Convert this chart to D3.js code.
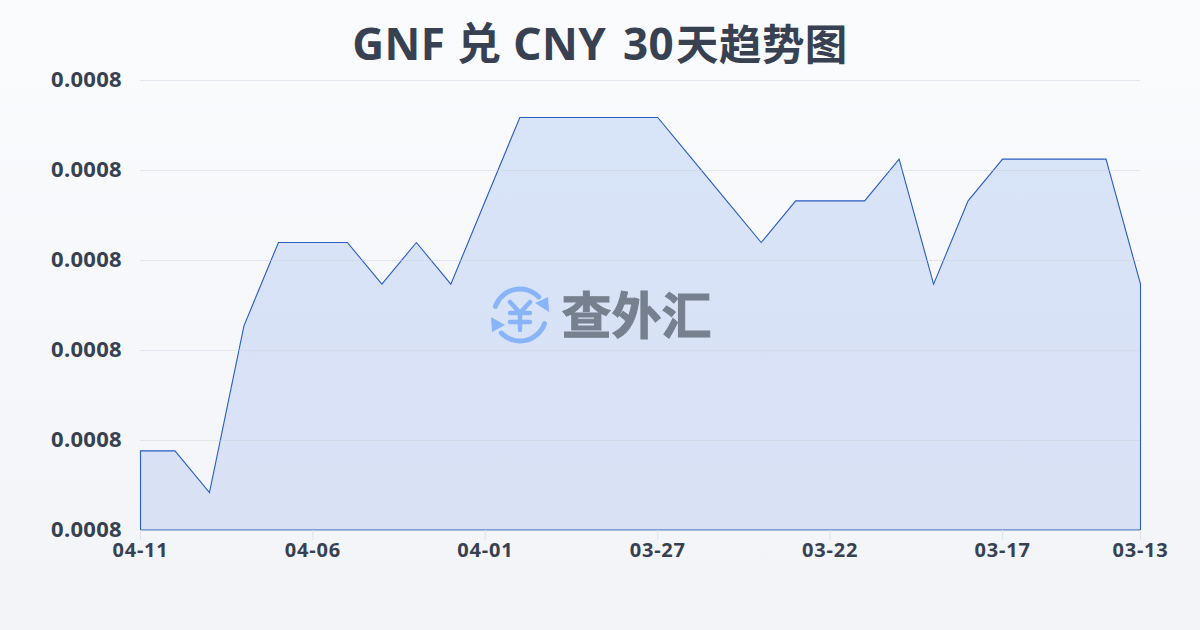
<!DOCTYPE html>
<html>
<head>
<meta charset="utf-8">
<style>
  html, body { margin: 0; padding: 0; background: #f5f6f9; }
  svg { display: block; }
  text { font-family: "Noto Sans", "Noto Sans CJK SC", sans-serif; }
</style>
</head>
<body>
<script src="https://d3js.org/d3.v7.min.js"></script>
<script>
var dates = ['04-11','04-10','04-09','04-08','04-07','04-06','04-05','04-04','04-03','04-02',
             '04-01','03-31','03-30','03-29','03-28','03-27','03-26','03-25','03-24','03-23',
             '03-22','03-21','03-20','03-19','03-18','03-17','03-16','03-15','03-14','03-13'];
var rates = [0.000797,0.000797,0.000796,0.000800,0.000802,0.000802,0.000802,0.000801,0.000802,0.000801,
             0.000803,0.000805,0.000805,0.000805,0.000805,0.000805,0.000804,0.000803,0.000802,0.000803,
             0.000803,0.000803,0.000804,0.000801,0.000803,0.000804,0.000804,0.000804,0.000804,0.000801];
var xTicks = ['04-11','04-06','04-01','03-27','03-22','03-17','03-13'];
var yTicks = [0.0007951,0.00079726,0.00079942,0.00080158,0.00080374,0.0008059];
var titleParts = ['GNF 兑 CNY ', '30', '天趋势图'];

var width = 1200,
    height = 630,
    left = 140,
    right = 1140,
    top_ = 80,
    bottom = 530;

var x = d3.scalePoint().domain(dates).range([left, right]);
var y = d3.scaleLinear().domain([yTicks[0], yTicks[yTicks.length - 1]]).range([bottom, top_]);

var svg = d3.select('body').append('svg')
    .attr('width', width)
    .attr('height', height);

var defs = svg.append('defs');
var bg = defs.append('linearGradient').attr('id', 'bg')
    .attr('x1', 0).attr('y1', 0).attr('x2', 0).attr('y2', 1);
bg.append('stop').attr('offset', 0).attr('stop-color', '#fafbfd');
bg.append('stop').attr('offset', 1).attr('stop-color', '#f2f4f7');

var fill = defs.append('linearGradient').attr('id', 'fill')
    .attr('x1', 0).attr('y1', 0).attr('x2', 0).attr('y2', 1);
fill.append('stop').attr('offset', 0).attr('stop-color', '#d8e4f8');
fill.append('stop').attr('offset', 1).attr('stop-color', '#d9e1f5');

svg.append('rect').attr('width', width).attr('height', height).attr('fill', 'url(#bg)');

var titleText = svg.append('text')
    .attr('x', 600).attr('y', 60)
    .attr('text-anchor', 'middle')
    .attr('font-size', 44)
    .attr('font-weight', 700)
    .attr('letter-spacing', 0.4)
    .attr('fill', '#374151')
    .attr('xml:space', 'preserve');
titleText.append('tspan').text(titleParts[0]);
titleText.append('tspan').attr('dx', 5).text(titleParts[1]);
titleText.append('tspan').attr('dx', 2).attr('font-size', 42.5).text(titleParts[2]);

// area first, grid goes on top of it
var area = d3.area()
    .x(function(d, i) { return x(dates[i]); })
    .y0(bottom)
    .y1(function(d) { return y(d); });

svg.append('path')
    .datum(rates)
    .attr('transform', 'translate(0.5,0)')
    .attr('d', function(d) { return area(d) + 'Z'; })
    .attr('fill', 'url(#fill)')
    .attr('stroke', '#2a5cc2')
    .attr('stroke-width', 1.1);

var yAxis = d3.axisLeft(y)
    .tickValues(yTicks)
    .tickFormat(d3.format('.4f'))
    .tickSize(right - left)
    .tickPadding(18);

var gy = svg.append('g')
    .attr('transform', 'translate(' + right + ',0)')
    .call(yAxis);
gy.select('.domain').remove();
gy.selectAll('line').attr('stroke', '#c9d0dc').attr('stroke-opacity', 0.45);
gy.selectAll('text')
    .attr('font-size', 22)
    .attr('font-weight', 700)
    .attr('letter-spacing', 0.3)
    .attr('y', -1)
    .attr('fill', '#374151')
    .style('font-family', '"Noto Sans", sans-serif');

var xAxis = d3.axisBottom(x)
    .tickValues(xTicks)
    .tickSize(10)
    .tickPadding(3);

var gx = svg.append('g')
    .attr('transform', 'translate(0,' + bottom + ')')
    .call(xAxis);
gx.select('.domain').remove();
gx.selectAll('line').attr('stroke', '#dfe3e8');
gx.selectAll('text')
    .attr('font-size', 20)
    .attr('font-weight', 700)
    .attr('letter-spacing', 0.8)
    .attr('fill', '#374151')
    .style('font-family', '"Noto Sans", sans-serif');

// watermark logo
var logo = svg.append('g').attr('transform', 'translate(520,315)');
var arc = d3.arc().innerRadius(23.5).outerRadius(28.5).cornerRadius(2.5);
logo.append('path').attr('fill', '#8ab4f8')
    .attr('d', arc({startAngle: -1.33, endAngle: 0.9}));
logo.append('path').attr('fill', '#8ab4f8')
    .attr('d', arc({startAngle: 1.81, endAngle: 4.04}));
logo.append('path').attr('fill', '#8ab4f8').attr('d', 'M28 -18 L29 -3 L15 -12 Z');
logo.append('path').attr('fill', '#8ab4f8').attr('d', 'M-29 2 L-28 17 L-15 10 Z');
logo.append('path')
    .attr('fill', 'none')
    .attr('stroke', '#8ab4f8')
    .attr('stroke-width', 4.5)
    .attr('stroke-linecap', 'round')
    .attr('d', 'M-10 -13 L0 -2 L10 -13 M0 -2 L0 15 M-10 -2 L10 -2 M-10 7 L10 7');

svg.append('text')
    .attr('x', 636.5).attr('y', 334)
    .attr('text-anchor', 'middle')
    .attr('font-size', 50)
    .attr('font-weight', 700)
    .attr('fill', '#76808f')
    .attr('stroke', '#76808f')
    .attr('stroke-width', 1)
    .text('查外汇');
</script>
</body>
</html>
